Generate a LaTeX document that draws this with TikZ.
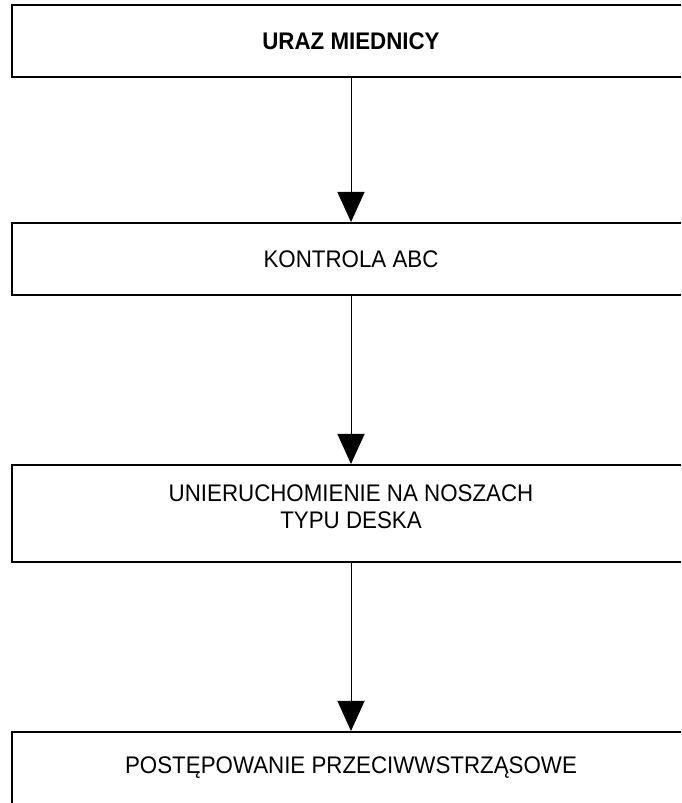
\documentclass[tikz,border=0pt]{standalone}
\usepackage{fontspec}
\setmainfont{Liberation Sans}[FakeStretch=0.93]
\usetikzlibrary{arrows.meta}
\begin{document}
\begin{tikzpicture}[x=1pt,y=1pt,
  box/.style={draw=black, line width=2pt, minimum width=679pt, inner sep=0pt, align=center, font=\fontsize{24}{27}\selectfont},
  boxtext/.style={inner sep=0pt, align=center, font=\fontsize{24}{27}\selectfont},
  conn/.style={line width=1pt, -{Triangle[width=27pt,length=30pt]}}]
\useasboundingbox (0,0) rectangle (681,803);
\clip (0,0) rectangle (681,803);
\node[box, minimum height=72pt, font=\bfseries\fontsize{24}{27}\selectfont] (b1) at (351,761.5) {URAZ MIEDNICY};
\node[box, minimum height=72pt] (b2) at (351,544) {KONTROLA ABC};
\node[box, minimum height=97pt] (b3) at (351,289.5) {};
\node[boxtext] (t3) at ([yshift=7pt]b3.center) {UNIERUCHOMIENIE NA NOSZACH\\TYPU DESKA};
\node[box, minimum height=72pt] (b4) at (351,35) {POSTĘPOWANIE PRZECIWWSTRZĄSOWE};
\draw[conn] (b1.south) -- (b2.north);
\draw[conn] (b2.south) -- (b3.north);
\draw[conn] (b3.south) -- (b4.north);
\end{tikzpicture}
\end{document}
